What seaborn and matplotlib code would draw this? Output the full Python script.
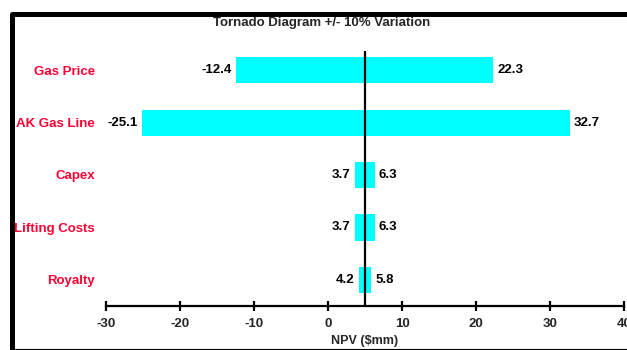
import matplotlib
matplotlib.use("Agg")
import matplotlib.pyplot as plt
import seaborn as sns
import pandas as pd
from matplotlib.patches import Rectangle
from matplotlib.lines import Line2D

categories = ["Gas Price", "AK Gas Line", "Capex", "Lifting Costs", "Royalty"]
low_values = [-12.4, -25.1, 3.7, 3.7, 4.2]
high_values = [22.3, 32.7, 6.3, 6.3, 5.8]
base_value = 5.0
x_ticks = [-30, -20, -10, 0, 10, 20, 30, 40]

sns.set_theme(style="white")
plt.rcParams["font.family"] = ["Liberation Sans", "DejaVu Sans"]
plt.rcParams["font.weight"] = "bold"

df = pd.DataFrame({
    "category": categories,
    "low": low_values,
    "high": high_values,
})
df["span"] = df["high"] - df["low"]

W, H = 627, 350
fig = plt.figure(figsize=(W / 100, H / 100), dpi=100)
ax = fig.add_axes([106 / W, 1 - 306 / H, (624 - 106) / W, (306 - 44) / H])

sns.barplot(data=df, x="span", y="category", orient="h", color="#00FFFF",
            saturation=1, width=0.5, ax=ax, order=categories)
for patch, lo in zip(ax.patches, df["low"]):
    patch.set_x(lo)
    patch.set_edgecolor("none")

ax.set_xlim(-30, 40)
ax.set_ylim(4.5, -0.5)
ax.vlines(base_value, 4.5, -0.36, color="black", linewidth=1.6, zorder=5)

for i, (lo, hi) in enumerate(zip(df["low"], df["high"])):
    ax.annotate(f"{lo:.1f}", (lo, i), xytext=(-3.5, 0), textcoords="offset points",
                ha="right", va="center", fontsize=9.5, fontweight="bold", color="black")
    ax.annotate(f"{hi:.1f}", (hi, i), xytext=(3, 0), textcoords="offset points",
                ha="left", va="center", fontsize=9.5, fontweight="bold", color="black")

ax.set_xticks(x_ticks)
ax.set_xticklabels([str(t) for t in x_ticks], fontsize=9.5, fontweight="bold")
ax.tick_params(axis="x", direction="inout", length=7, width=1.6, color="black",
               pad=5, bottom=True)
ax.tick_params(axis="y", length=0, pad=8, labelsize=9.5, labelcolor="#FF0033")
for lbl in ax.get_yticklabels():
    lbl.set_fontweight("bold")
ax.set_ylabel("")
ax.set_xlabel("NPV ($mm)", fontsize=9, fontweight="bold", labelpad=4)

for side in ["left", "top", "right"]:
    ax.spines[side].set_visible(False)
ax.spines["bottom"].set_linewidth(1.6)
ax.spines["bottom"].set_color("black")

fig.text(322 / W, 1 - 23 / H, "Tornado Diagram +/- 10% Variation",
         ha="center", va="center", fontsize=9.5, fontweight="bold")

# outer frame (thick left and top, thin bottom)
frame = Rectangle((12 / W, -0.3), 1.2, (H - 13.5) / H + 0.3, transform=fig.transFigure,
                  fill=False, edgecolor="black", linewidth=3.6, joinstyle="round",
                  clip_on=False)
fig.patches.append(frame)
fig.lines.append(Line2D([12 / W, 1], [1.2 / H, 1.2 / H], transform=fig.transFigure,
                        color="black", linewidth=0.8))

fig.savefig("out.png", dpi=100)
